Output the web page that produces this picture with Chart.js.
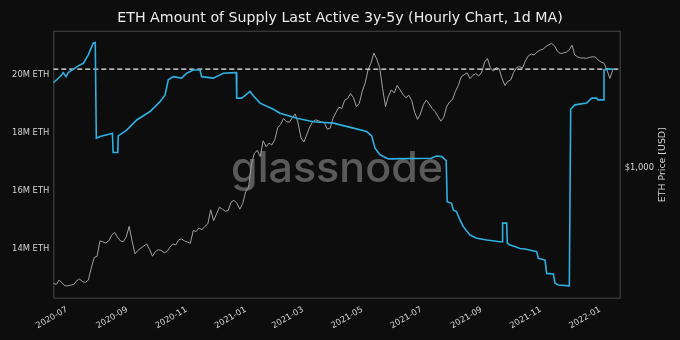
<!DOCTYPE html>
<html>
<head>
<meta charset="utf-8">
<title>ETH Amount of Supply Last Active 3y-5y</title>
<script src="https://cdn.jsdelivr.net/npm/chart.js@4"></script>
<style>
  html, body { margin: 0; padding: 0; background: #0d0d0d; }
  canvas { display: block; }
</style>
</head>
<body>
<canvas id="supplyChart" width="680" height="340"></canvas>
<script>
// x values are days counted from 2020-07-01
const tickDays = [0, 62, 123, 184, 243, 304, 365, 427, 488, 549];
const tickLabels = ['2020-07', '2020-09', '2020-11', '2021-01', '2021-03', '2021-05', '2021-07', '2021-09', '2021-11', '2022-01'];
const supplyTicks = [14, 16, 18, 20];
const priceTicks = [1000];

// supply last active 3y-5y, millions of ETH
const supplyDays = [
  -14.1, -10, -6, -3.8, -1, 1.3, 6.5, 12, 16.8, 21.9, 27, 29.1, 30.2, 34, 44.3, 46.8, 47.5, 52.2, 52.8, 61.5,
  71.8, 85.5, 95.8, 101, 104.3, 109.5, 118, 123.3, 130, 137, 138.7, 150.7, 161, 173, 174.3, 174.8, 180, 188.5, 191.9, 198.8,
  212.5, 219.4, 236.6, 253.7, 274.3, 294.9, 308.6, 313.8, 317.2, 322.3, 331, 375, 380.7, 386, 390.5, 391.5, 396, 397.8, 401, 404.7,
  408.1, 415, 421.9, 432.2, 446, 448.3, 448.6, 452.8, 453.4, 456.2, 461, 466.5, 473, 483.7, 485.4, 492.3, 494, 500.8, 502.6, 506,
  517.3, 518.7, 523, 535.2, 540.3, 545.5, 547, 552.3, 553, 557, 562.6
];
const supplyValues = [
  19.73, 19.85, 19.98, 20.08, 19.94, 20.08, 20.2, 20.32, 20.40, 20.69, 21.09, 21.11, 17.82, 17.88, 17.97, 17.99, 17.33, 17.33, 17.9, 18.1,
  18.45, 18.74, 19.08, 19.31, 19.83, 19.94, 19.89, 20.06, 20.17, 20.17, 19.94, 19.89, 20.06, 20.08, 20.08, 19.2, 19.2, 19.43, 19.28, 19.03,
  18.82, 18.68, 18.51, 18.39, 18.34, 18.17, 18.05, 17.9, 17.48, 17.25, 17.11, 17.13, 17.21, 17.19, 17.05, 15.64, 15.58, 15.35, 15.3, 15.01,
  14.78, 14.49, 14.38, 14.32, 14.26, 14.26, 14.9, 14.9, 14.21, 14.15, 14.1, 14.03, 14.0, 13.92, 13.69, 13.63, 13.17, 13.15, 12.83, 12.77,
  12.74, 18.82, 18.97, 19.03, 19.2, 19.2, 19.14, 19.14, 20.17, 20.2, 20.2
];
const supplyLevel = 20.2;

// ETH price in USD, one value every 3 days from 2020-06-17
const priceStartDay = -14;
const priceStepDays = 3;
const priceValues = [
  235, 232, 245, 236, 228, 228, 230, 232, 243, 248, 240, 238, 245, 285, 325, 330, 400, 395, 390, 400,
  430, 445, 420, 400, 396, 420, 480, 400, 340, 355, 365, 375, 385, 360, 330, 350, 358, 355, 345, 350,
  370, 385, 380, 405, 410, 400, 395, 388, 455, 450, 470, 460, 480, 495, 590, 515, 560, 610, 595, 580,
  585, 650, 665, 640, 595, 640, 740, 780, 1050, 1200, 1240, 1150, 1400, 1300, 1360, 1330, 1420, 1650, 1720, 1850,
  1780, 1770, 1870, 1960, 1750, 1450, 1380, 1520, 1670, 1780, 1820, 1800, 1770, 1760, 1620, 1640, 1860, 2000, 2130, 2100,
  2330, 2380, 2530, 2400, 2150, 2240, 2600, 2880, 3400, 3700, 4200, 3900, 3500, 2700, 2150, 2450, 2650, 2550, 2800, 2650,
  2500, 2400, 2480, 2320, 2000, 1830, 1960, 2200, 2330, 2220, 2100, 2020, 1900, 1790, 1880, 2150, 2280, 2350, 2600, 2800,
  3120, 3200, 3280, 3050, 3180, 3250, 3150, 3300, 3750, 3920, 3500, 3350, 3500, 3450, 3050, 2800, 2950, 3000, 3300, 3500,
  3550, 3480, 3800, 4050, 4150, 4100, 4250, 4360, 4400, 4550, 4650, 4740, 4600, 4300, 4180, 4200, 4250, 4350, 4640, 4100,
  4000, 3950, 3950, 3930, 3980, 4010, 4000, 3850, 3750, 3700, 3400, 3060, 3390
];

const xMin = -14.1;
const xMax = 570.2;

const tickFont = { family: 'DejaVu Sans', size: 8.4 };
const textColor = '#d4d4d4';

const supplyPoints = supplyDays.map((d, i) => ({ x: d, y: supplyValues[i] }));
const pricePoints = priceValues.map((p, i) => ({ x: priceStartDay + i * priceStepDays, y: p }));

const background = {
  id: 'background',
  beforeDraw(chart) {
    const c = chart.ctx;
    c.save();
    c.fillStyle = '#0d0d0d';
    c.fillRect(0, 0, chart.width, chart.height);
    c.restore();
  }
};

const watermark = {
  id: 'watermark',
  beforeDatasetsDraw(chart) {
    const { ctx: c, chartArea: a } = chart;
    c.save();
    c.font = '500 42px Inter';
    const w = c.measureText('glassnode').width;
    c.translate((a.left + a.right) / 2, 182);
    c.scale(212 / w, 1);
    c.fillStyle = 'rgba(255,255,255,0.32)';
    c.textAlign = 'center';
    c.textBaseline = 'alphabetic';
    c.fillText('glassnode', 0, 0);
    c.restore();
    // plot frame
    c.save();
    c.strokeStyle = '#474747';
    c.lineWidth = 1;
    c.strokeRect(a.left + 0.5, a.top + 0.5, a.right - a.left - 1, a.bottom - a.top - 1);
    c.restore();
  }
};

const priceTitle = {
  id: 'priceTitle',
  afterDraw(chart) {
    const { ctx: c, chartArea: a } = chart;
    c.save();
    c.translate(662.5, (a.top + a.bottom) / 2);
    c.rotate(-Math.PI / 2);
    c.font = '9.4px "DejaVu Sans"';
    c.fillStyle = textColor;
    c.textAlign = 'center';
    c.textBaseline = 'middle';
    c.fillText('ETH Price [USD]', 0, 0);
    c.restore();
  }
};

new Chart(document.getElementById('supplyChart'), {
  type: 'line',
  data: {
    datasets: [
      {
        data: supplyPoints,
        yAxisID: 'ySupply',
        borderColor: '#2fb0e2',
        borderWidth: 1.6,
        pointRadius: 0,
        tension: 0
      },
      {
        data: [{ x: xMin, y: supplyLevel }, { x: xMax, y: supplyLevel }],
        yAxisID: 'ySupply',
        borderColor: '#f2f2f2',
        borderWidth: 1.2,
        borderDash: [5, 3],
        pointRadius: 0
      },
      {
        data: pricePoints,
        yAxisID: 'yPrice',
        borderColor: '#a2a2a2',
        borderWidth: 1,
        pointRadius: 0,
        tension: 0
      }
    ]
  },
  options: {
    responsive: false,
    animation: false,
    layout: { padding: 0 },
    plugins: {
      legend: { display: false },
      tooltip: { enabled: false },
      title: {
        display: true,
        text: 'ETH Amount of Supply Last Active 3y-5y (Hourly Chart, 1d MA)',
        color: '#ececec',
        font: { family: 'DejaVu Sans', size: 14.2, weight: 'normal' },
        padding: { top: 9.5, bottom: 4.2 }
      }
    },
    scales: {
      x: {
        type: 'linear',
        min: xMin,
        max: xMax,
        grid: { display: false, drawTicks: false },
        border: { display: false },
        afterBuildTicks: s => { s.ticks = tickDays.map(v => ({ value: v })); },
        afterFit: s => { s.height = 41.3; },
        ticks: {
          font: tickFont,
          color: textColor,
          padding: 6,
          autoSkip: false,
          minRotation: 30,
          maxRotation: 30,
          callback: v => tickLabels[tickDays.indexOf(v)]
        }
      },
      ySupply: {
        position: 'left',
        min: 12.3,
        max: 21.52,
        grid: { display: false, drawTicks: false },
        border: { display: false },
        afterBuildTicks: s => { s.ticks = supplyTicks.map(v => ({ value: v })); },
        afterFit: s => { s.width = 53.3; },
        ticks: {
          font: tickFont,
          color: textColor,
          padding: 4,
          callback: v => v + 'M ETH'
        }
      },
      yPrice: {
        type: 'logarithmic',
        position: 'right',
        min: 194,
        max: 5555,
        grid: { display: false, drawTicks: false },
        border: { display: false },
        afterBuildTicks: s => { s.ticks = priceTicks.map(v => ({ value: v })); },
        afterFit: s => { s.width = 59.3; },
        ticks: {
          font: tickFont,
          color: textColor,
          padding: 4,
          callback: v => '$' + v.toLocaleString('en-US')
        }
      }
    }
  },
  plugins: [background, watermark, priceTitle]
});
</script>
</body>
</html>
